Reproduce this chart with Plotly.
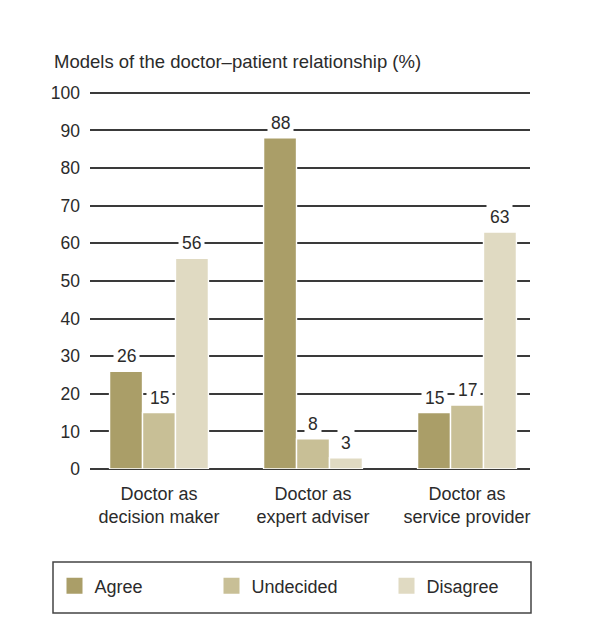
import plotly.graph_objects as go

categories = ["Doctor as<br>decision maker", "Doctor as<br>expert adviser", "Doctor as<br>service provider"]
series_names = ["Agree", "Undecided", "Disagree"]
agree = [26, 88, 15]
undecided = [15, 8, 17]
disagree = [56, 3, 63]
y_ticks = [0, 10, 20, 30, 40, 50, 60, 70, 80, 90, 100]

colors = ["#aa9e68", "#c8bf96", "#e0dac2"]
series_values = [agree, undecided, disagree]
text_color = "#2b2b2b"
font_family = "Liberation Sans, Arial, sans-serif"

W, H = 601, 639
PAGE_OFF = 8  # default body margin of the html page
plot_l, plot_r, plot_t, plot_b = 90, 530, 89, 469  # target page pixels
plot_w = plot_r - plot_l
plot_h = plot_b - plot_t

x_pos = list(range(len(categories)))
bar_slot = 0.214
n = len(series_names)
fig = go.Figure()
for name, vals, col in zip(series_names, series_values, colors):
    fig.add_trace(go.Bar(
        x=x_pos, y=vals, name=name,
        marker=dict(color=col, line=dict(color="white", width=1.4)),
        showlegend=False, hoverinfo="skip"))
legend_keys = ["legend", "legend2", "legend3"]
legend_swatch_x = [75, 232, 407]
for name, col, lk in zip(series_names, colors, legend_keys):
    fig.add_trace(go.Scatter(
        x=[None], y=[None], mode="markers", name=name, legend=lk,
        marker=dict(symbol="square", size=16, color=col)))

annotations = []
for i, vals in enumerate(series_values):
    off = (i - (n - 1) / 2) * bar_slot
    for j, v in enumerate(vals):
        annotations.append(dict(
            x=x_pos[j] + off, y=v, xref="x", yref="y", text=str(v),
            showarrow=False, yanchor="bottom", yshift=1,
            bgcolor="white", borderpad=3,
            font=dict(size=17.5, color=text_color, family=font_family)))

annotations.append(dict(
    x=(52 - plot_l) / plot_w, y=(plot_b - 74) / plot_h, xref="paper", yref="paper",
    text="Models of the doctor\u2013patient relationship (%)",
    showarrow=False, xanchor="left", yanchor="bottom",
    font=dict(size=18.5, color=text_color, family=font_family)))

legend_cfg = {}
for lk, sx in zip(legend_keys, legend_swatch_x):
    legend_cfg[lk] = dict(
        orientation="h", xref="container", yref="container",
        x=(sx - 20.5 - PAGE_OFF) / W, y=1 - (586 - PAGE_OFF) / H,
        xanchor="left", yanchor="middle",
        font=dict(size=18, color=text_color),
        bgcolor="rgba(0,0,0,0)", borderwidth=0)

fig.update_layout(
    width=W, height=H,
    margin=dict(l=plot_l - PAGE_OFF, r=W - (plot_r - PAGE_OFF),
                t=plot_t - PAGE_OFF, b=H - (plot_b - PAGE_OFF), autoexpand=False),
    plot_bgcolor="white", paper_bgcolor="white",
    barmode="group", bargap=1 - n * bar_slot, bargroupgap=0,
    font=dict(family=font_family, size=17, color=text_color),
    annotations=annotations,
    xaxis=dict(range=[-0.448, 2.409], tickvals=x_pos, ticktext=categories,
               showgrid=False, zeroline=False, showline=False, automargin=False,
               ticks="", ticklabelstandoff=12, tickfont=dict(size=18, color=text_color)),
    yaxis=dict(range=[0, 101], tickvals=y_ticks, showgrid=True, automargin=False,
               gridcolor="#3a3a3a", gridwidth=1.5, zeroline=True,
               zerolinecolor="#3a3a3a", zerolinewidth=1.5,
               ticks="", ticklabelstandoff=9,
               tickfont=dict(size=17.5, color=text_color)),
    shapes=[dict(type="rect", xref="paper", yref="paper",
                 x0=(53 - plot_l) / plot_w, x1=(531 - plot_l) / plot_w,
                 y0=(plot_b - 613) / plot_h, y1=(plot_b - 562) / plot_h,
                 line=dict(color="#444", width=1.5), fillcolor="rgba(0,0,0,0)")],
    **legend_cfg,
)
fig.write_html("out.html")
